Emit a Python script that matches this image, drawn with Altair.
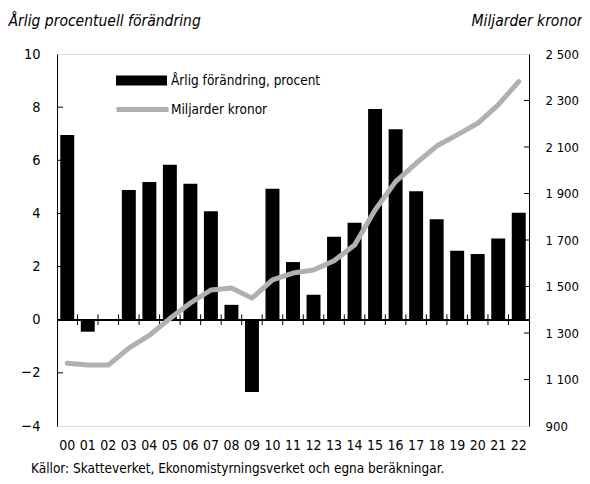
import altair as alt
import pandas as pd

years = ["00", "01", "02", "03", "04", "05", "06", "07", "08", "09", "10", "11",
         "12", "13", "14", "15", "16", "17", "18", "19", "20", "21", "22"]
pct = [6.95, -0.45, 0.02, 4.88, 5.18, 5.83, 5.12, 4.08, 0.56, -2.72, 4.93, 2.17,
       0.94, 3.12, 3.65, 7.93, 7.17, 4.83, 3.78, 2.60, 2.47, 3.06, 4.03]
bn = [1170, 1162, 1162, 1235, 1290, 1362, 1429, 1485, 1494, 1450, 1528, 1558,
      1571, 1611, 1678, 1829, 1951, 2030, 2104, 2152, 2202, 2281, 2381]
left_values = [-4, -2, 0, 2, 4, 6, 8, 10]
right_values = [900, 1100, 1300, 1500, 1700, 1900, 2100, 2300, 2500]
left_ticks = [-2, 0, 2, 4, 6, 8]
right_ticks = [1100, 1300, 1500, 1700, 1900, 2100, 2300]
bar_label = "Årlig förändring, procent"
line_label = "Miljarder kronor"
left_title = "Årlig procentuell förändring"
right_title = "Miljarder kronor"
source = "Källor: Skatteverket, Ekonomistyrningsverket och egna beräkningar."

FONT = "DejaVu Sans Condensed, Liberation Sans Narrow, sans-serif"
W, H = 472, 372

df = pd.DataFrame({"year": years, "pct": pct, "bn": bn,
                   "sbar": bar_label, "sline": line_label})
lt = pd.DataFrame({"v": left_ticks})
rt = pd.DataFrame({"v": right_ticks})

xs = alt.Scale(paddingInner=0, paddingOuter=0)
xaxis = alt.Axis(title=None, ticks=False, tickSize=0, domain=False, labelAngle=0,
                 labelPadding=12, labelFontSize=14, labelColor="black", labelFont=FONT)
xenc = alt.X("year:N", scale=xs, axis=xaxis)

ly_scale = alt.Scale(domain=[-4, 10], nice=False, zero=False)
ly_axis = alt.Axis(orient="left", values=left_values, ticks=False, tickSize=0,
                   domain=True, domainColor="black", domainWidth=1, grid=False,
                   labelPadding=17, labelFontSize=14.5, labelColor="black", labelFont=FONT,
                   title=left_title, titleAngle=0, titleX=-49, titleY=-34,
                   titleAlign="left", titleBaseline="middle", titleFontStyle="italic",
                   titleFontWeight="normal", titleFontSize=15.5, titleFont=FONT,
                   titleColor="black")

ry_scale = alt.Scale(domain=[900, 2500], nice=False, zero=False)
ry_axis = alt.Axis(orient="right", values=right_values, ticks=False, tickSize=0,
                   domain=True, domainColor="black", domainWidth=1, grid=False,
                   labelPadding=16, labelFontSize=13, labelColor="black", labelFont=FONT,
                   labelLimit=200,
                   labelExpr="replace(format(datum.value, ','), ',', ' ')",
                   title=right_title, titleAngle=0, titleX=53, titleY=-34,
                   titleAlign="right", titleBaseline="middle", titleFontStyle="italic",
                   titleFontWeight="normal", titleFontSize=15.5, titleFont=FONT,
                   titleColor="black")

bars = alt.Chart(df).mark_bar(width=alt.RelativeBandSize(0.68)).encode(
    x=xenc,
    y=alt.Y("pct:Q", scale=ly_scale, axis=ly_axis),
    color=alt.Color("sbar:N", scale=alt.Scale(range=["#000000"]),
                    legend=alt.Legend(title=None, orient="none", legendX=59, legendY=1,
                                      symbolType="M-1,-0.2H1V0.2H-1Z", symbolSize=2601,
                                      symbolStrokeWidth=0, labelFontSize=13.5, labelFont=FONT,
                                      labelColor="black", labelOffset=4, labelLimit=400,
                                      padding=0)),
)

zero = alt.Chart(df).mark_rule(color="black", strokeWidth=1).encode(
    y=alt.YDatum(0, scale=ly_scale, axis=ly_axis)
)

xticks = alt.Chart(df).transform_filter("datum.year != '00'").mark_rule(
    color="black", strokeWidth=1).encode(
    x=alt.X("year:N", scale=xs, axis=xaxis, bandPosition=0),
    y=alt.YDatum(0.2, scale=ly_scale, axis=ly_axis),
    y2=alt.Y2Datum(-0.2),
)

lticks = alt.Chart(lt).mark_rule(color="black", strokeWidth=1).encode(
    y=alt.Y("v:Q", scale=ly_scale, axis=ly_axis),
    x=alt.value(0), x2=alt.value(6),
)

left = alt.layer(bars, zero, xticks, lticks)

line = alt.Chart(df).mark_line(strokeWidth=5, strokeCap="round", strokeJoin="round").encode(
    x=xenc,
    y=alt.Y("bn:Q", scale=ry_scale, axis=ry_axis),
    stroke=alt.Stroke("sline:N", scale=alt.Scale(range=["#b0b0b0"]),
                      legend=alt.Legend(title=None, orient="none", legendX=57, legendY=27,
                                        symbolType="stroke", symbolSize=2704,
                                        symbolStrokeWidth=5, labelFontSize=13.5, labelFont=FONT,
                                        labelColor="black", labelOffset=0, labelLimit=400,
                                        padding=0)),
)

rticks = alt.Chart(rt).mark_rule(color="black", strokeWidth=1).encode(
    y=alt.Y("v:Q", scale=ry_scale, axis=ry_axis),
    x=alt.value(W - 5), x2=alt.value(W),
)

right = alt.layer(line, rticks)

chart = alt.layer(left, right).resolve_scale(y="independent").properties(
    width=W, height=H,
    padding={"left": 49, "top": 46, "right": 53, "bottom": 50},
    autosize=alt.AutoSizeParams(type="none"),
    title=alt.TitleParams(text=source, orient="bottom", anchor="start", frame="group",
                          dx=-26, offset=10, fontSize=13.5, font=FONT, fontWeight="normal",
                          color="black"),
).configure_view(stroke="#666666", strokeWidth=1).configure(font=FONT)

chart.save("out.html", embed_options={"renderer": "svg", "actions": False})
